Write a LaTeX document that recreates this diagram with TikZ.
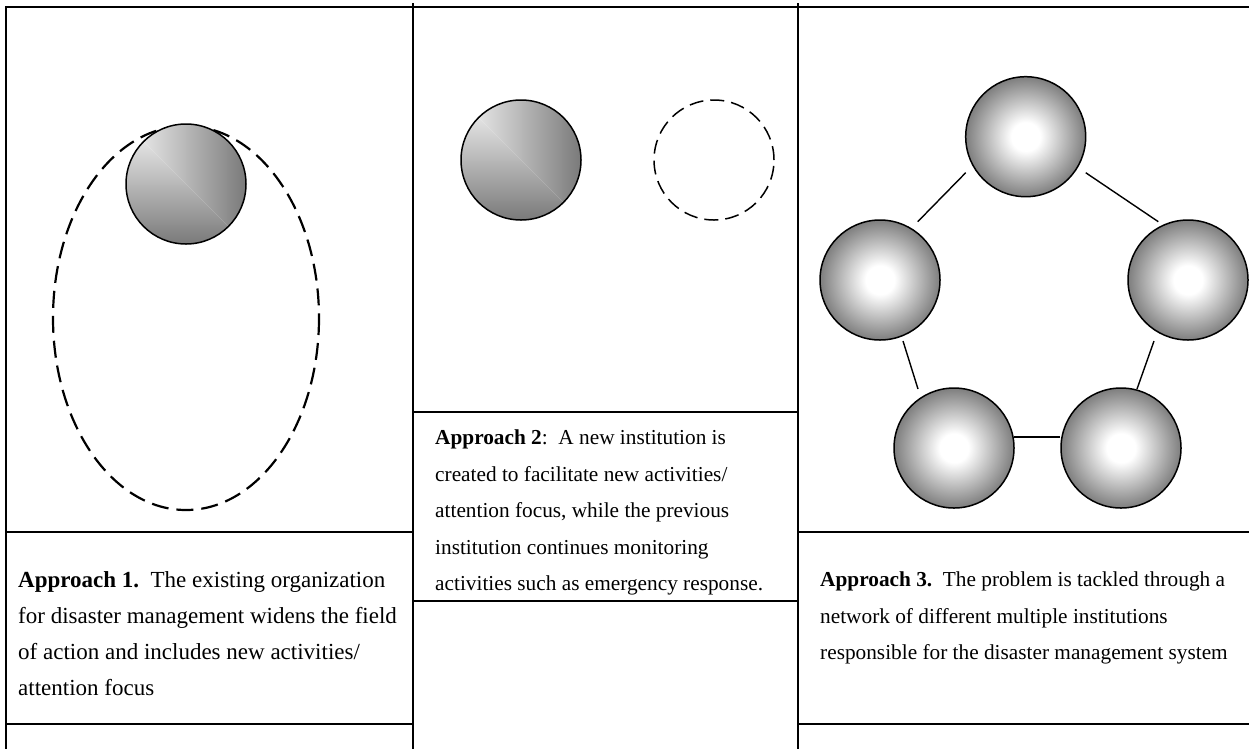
\documentclass[tikz,border=0pt]{standalone}
\usepackage{fontspec}
\setmainfont{Liberation Serif}
\usetikzlibrary{calc}

\definecolor{orbhi}{HTML}{F5F5F5}
\definecolor{orblo}{HTML}{7A7A7A}
\definecolor{orbedge}{HTML}{7E7E7E}

% radial fill of the network institutions: white core, grey rim
\pgfdeclareradialshading{orb}{\pgfpoint{0bp}{0bp}}{%
  color(0bp)=(white); color(6bp)=(white);
  color(25bp)=(orbedge); color(50bp)=(orbedge)}

\tikzset{
  frame/.style={line width=1.9pt, line cap=rect},
  % institution filled with a corner gradient (light top left, dark right and bottom)
  cornerorg/.style={circle, draw, line width=1.5pt, minimum size=120pt, inner sep=0pt,
    path picture={
      \shade[left color=orbhi, right color=orblo]
        (path picture bounding box.north west) -- (path picture bounding box.north east)
        -- (path picture bounding box.south east) -- cycle;
      \shade[top color=orbhi, bottom color=orblo]
        (path picture bounding box.north west) -- (path picture bounding box.south west)
        -- (path picture bounding box.south east) -- cycle;
    }},
  neworg/.style={circle, draw, line width=1.5pt, minimum size=120pt, inner sep=0pt,
    dash pattern=on 14pt off 7pt},
  netorg/.style={circle, draw, line width=1.5pt, minimum size=120pt, inner sep=0pt,
    shading=orb},
  link/.style={line width=1.4pt},
  caption/.style={anchor=north west, inner sep=0pt, align=left,
    font=\fontsize{21.3}{36.5}\selectfont},
  widecaption/.style={caption, font=\fontsize{23}{36}\selectfont},
}

\begin{document}
\begin{tikzpicture}[x=1pt, y=-1pt]
  \useasboundingbox (0,0) rectangle (1249,748);

  % table frame
  \draw[frame] (6,7) -- (1249,7);
  \draw[frame] (6,7) -- (6,748);
  \draw[frame] (413,4) -- (413,748);
  \draw[frame] (798,4) -- (798,748);
  \draw[frame] (6,532) -- (413,532);
  \draw[frame] (6,724) -- (413,724);
  \draw[frame] (413,412) -- (798,412);
  \draw[frame] (413,601) -- (798,601);
  \draw[frame] (798,532) -- (1249,532);
  \draw[frame] (798,724) -- (1249,724);

  % approach 1: the organisation widens its field of action
  \draw[line width=2.2pt, dash pattern=on 17pt off 8pt]
    (186,318) ellipse [x radius=133, y radius=192];
  \node[cornerorg] (a1) at (186,184) {};

  % approach 2: existing institution and a new one beside it
  \node[cornerorg] (a2old) at (521,160) {};
  \node[neworg] (a2new) at (714,160) {};

  % approach 3: network of institutions
  \node[netorg] (n1) at (1025.7,136.7) {};
  \node[netorg] (n2) at (880,280) {};
  \node[netorg] (n3) at (1188,280) {};
  \node[netorg] (n4) at (954,448) {};
  \node[netorg] (n5) at (1121,448) {};

  \draw[link] ($(n1)+(-60,36)$) -- ($(n2)+(37.7,-58.3)$);
  \draw[link] ($(n1)+(60,36)$) -- ($(n3)+(-29.7,-58.3)$);
  \draw[link] ($(n2)+(23,61)$) -- ($(n4)+(-36,-59)$);
  \draw[link] ($(n3)+(-34,61)$) -- ($(n5)+(16,-59)$);
  \draw[link] ($(n4)+(60,-11)$) -- ($(n5)+(-61,-11)$);

  % captions
  \node[widecaption] (t1) at (18,571) {\textbf{Approach 1.}\ \ The existing organization\\
    for disaster management widens the field\\
    of action and includes new activities/\\
    attention focus};
  \node[caption] (t2) at (435,430) {\textbf{Approach 2}:\ \ A new institution is\\
    created to facilitate new activities/\\
    attention focus, while the previous\\
    institution continues monitoring\\
    activities such as emergency response.};
  \node[caption] (t3) at (820,572) {\textbf{Approach 3.}\ \ The problem is tackled through a\\
    network of different multiple institutions\\
    responsible for the disaster management system};
\end{tikzpicture}
\end{document}
